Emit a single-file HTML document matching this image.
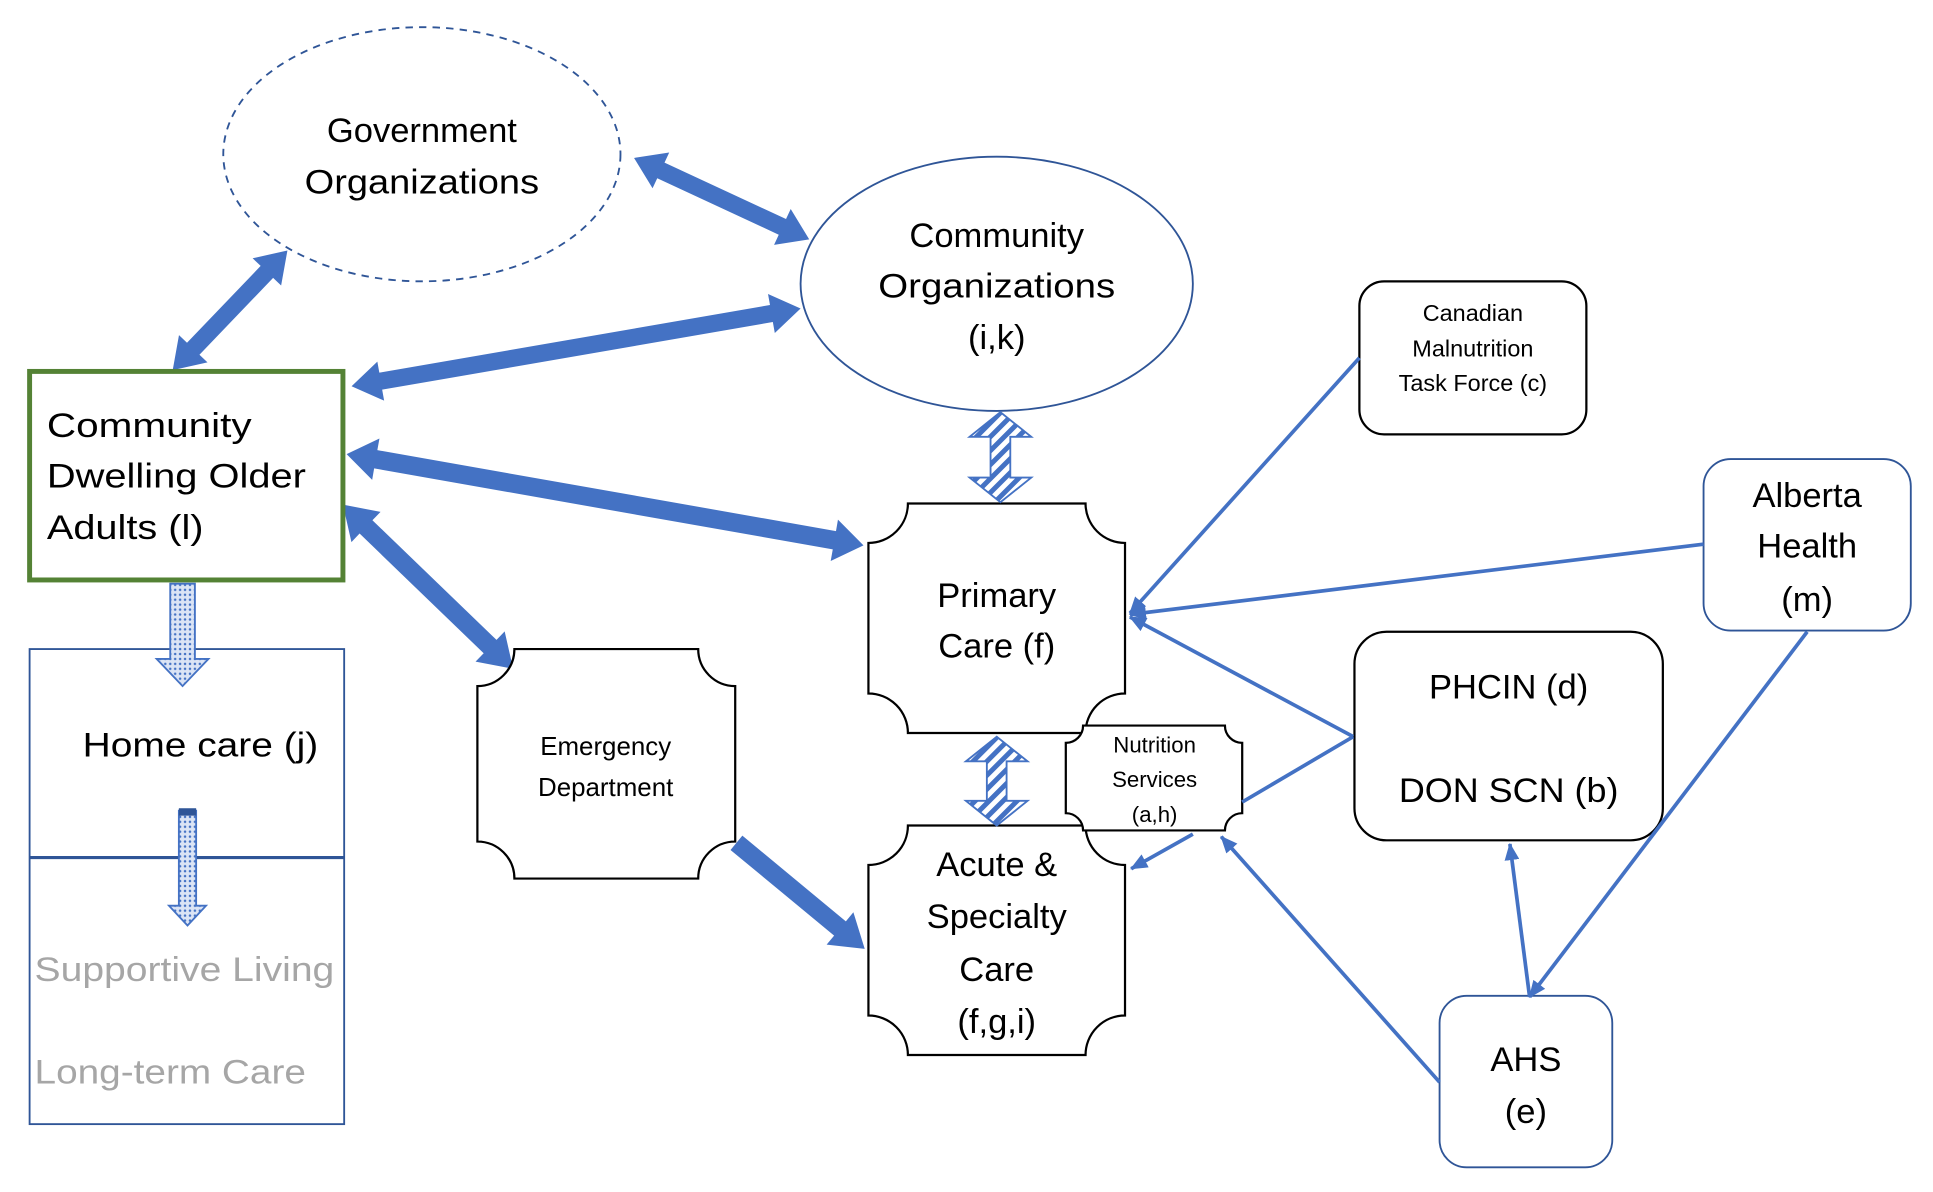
<!DOCTYPE html>
<html><head><meta charset="utf-8"><style>
html,body{margin:0;padding:0;background:#fff;}
svg{display:block;}
text{font-family:"Liberation Sans",sans-serif;}
</style></head><body>
<svg id="s" width="1933" height="1192" viewBox="0 0 1567 966" preserveAspectRatio="none" xmlns="http://www.w3.org/2000/svg">
<defs>
<pattern id="hatch" width="8" height="8" patternUnits="userSpaceOnUse" patternTransform="rotate(45)">
<rect width="8" height="8" fill="#fff"/><rect width="4" height="8" fill="#4472c4"/></pattern>
<pattern id="dots" width="4" height="4" patternUnits="userSpaceOnUse">
<rect width="4" height="4" fill="#dbe4f5"/><circle cx="2" cy="2" r="1" fill="#4472c4"/></pattern>
<marker id="ah" markerUnits="userSpaceOnUse" markerWidth="14" markerHeight="12" refX="13" refY="6" orient="auto-start-reverse"><path d="M0,0 L14,6 L0,12 z" fill="#4472c4"/></marker>
</defs>
<g id="arrows"></g>

<ellipse cx="342" cy="125" rx="161" ry="103" fill="none" stroke="#2f5597" stroke-width="1.5" stroke-dasharray="6,5"/>
<text x="342" y="115" font-size="28" text-anchor="middle">Government</text>
<text x="342" y="157" font-size="28" text-anchor="middle" textLength="190" lengthAdjust="spacingAndGlyphs">Organizations</text>

<ellipse cx="808" cy="230" rx="159" ry="103" fill="#fff" stroke="#2f5597" stroke-width="1.5"/>
<text x="808" y="200" font-size="28" text-anchor="middle">Community</text>
<text x="808" y="241" font-size="28" text-anchor="middle" textLength="192" lengthAdjust="spacingAndGlyphs">Organizations</text>
<text x="808" y="283" font-size="28" text-anchor="middle">(i,k)</text>

<rect x="24" y="301" width="254" height="169" fill="#fff" stroke="#548235" stroke-width="4"/>
<text x="38" y="354" font-size="28" textLength="166" lengthAdjust="spacingAndGlyphs">Community</text>
<text x="38" y="395" font-size="28" textLength="210" lengthAdjust="spacingAndGlyphs">Dwelling Older</text>
<text x="38" y="437" font-size="28" textLength="127" lengthAdjust="spacingAndGlyphs">Adults (l)</text>

<rect x="24" y="526" width="255" height="385" fill="#fff" stroke="#2f5597" stroke-width="1.5"/>
<line x1="24" y1="695" x2="279" y2="695" stroke="#2f5597" stroke-width="2.5"/>
<text x="67" y="613" font-size="28" textLength="191" lengthAdjust="spacingAndGlyphs">Home care (j)</text>
<text x="28" y="795" font-size="28" fill="#a6a6a6" textLength="243" lengthAdjust="spacingAndGlyphs">Supportive Living</text>
<text x="28" y="878" font-size="28" fill="#a6a6a6" textLength="220" lengthAdjust="spacingAndGlyphs">Long-term Care</text>

<g id="plaques" fill="#fff" stroke="#000" stroke-width="1.8"></g>

<text x="491" y="612" font-size="21" text-anchor="middle">Emergency</text>
<text x="491" y="645" font-size="21" text-anchor="middle">Department</text>
<text x="808" y="492" font-size="28" text-anchor="middle">Primary</text>
<text x="808" y="533" font-size="28" text-anchor="middle">Care (f)</text>
<text x="808" y="710" font-size="28" text-anchor="middle">Acute &amp;</text>
<text x="808" y="752" font-size="28" text-anchor="middle">Specialty</text>
<text x="808" y="795" font-size="28" text-anchor="middle">Care</text>
<text x="808" y="837" font-size="28" text-anchor="middle">(f,g,i)</text>

<g id="nut"></g>
<text x="936" y="610" font-size="18" text-anchor="middle">Nutrition</text>
<text x="936" y="638" font-size="18" text-anchor="middle">Services</text>
<text x="936" y="666" font-size="18" text-anchor="middle">(a,h)</text>

<rect x="1102" y="228" width="184" height="124" rx="20" fill="#fff" stroke="#000" stroke-width="1.8"/>
<text x="1194" y="260" font-size="19" text-anchor="middle">Canadian</text>
<text x="1194" y="289" font-size="19" text-anchor="middle">Malnutrition</text>
<text x="1194" y="317" font-size="19" text-anchor="middle">Task Force (c)</text>

<rect x="1381" y="372" width="168" height="139" rx="22" fill="#fff" stroke="#2f5597" stroke-width="1.5"/>
<text x="1465" y="411" font-size="28" text-anchor="middle">Alberta</text>
<text x="1465" y="452" font-size="28" text-anchor="middle">Health</text>
<text x="1465" y="495" font-size="28" text-anchor="middle">(m)</text>

<rect x="1098" y="512" width="250" height="169" rx="26" fill="#fff" stroke="#000" stroke-width="1.8"/>
<text x="1223" y="566" font-size="28" text-anchor="middle">PHCIN (d)</text>
<text x="1223" y="650" font-size="28" text-anchor="middle" textLength="178" lengthAdjust="spacingAndGlyphs">DON SCN (b)</text>

<rect x="1167" y="807" width="140" height="139" rx="22" fill="#fff" stroke="#2f5597" stroke-width="1.5"/>
<text x="1237" y="868" font-size="28" text-anchor="middle">AHS</text>
<text x="1237" y="910" font-size="28" text-anchor="middle">(e)</text>

<g stroke="#4472c4" stroke-width="3" fill="none">
<line x1="1102" y1="290" x2="916" y2="497" marker-end="url(#ah)"/>
<line x1="1381" y1="441" x2="916" y2="498" marker-end="url(#ah)"/>
<line x1="1097" y1="597" x2="916" y2="500" marker-end="url(#ah)"/>
<line x1="1097" y1="597" x2="1007" y2="650"/>
<line x1="967" y1="676" x2="917" y2="704" marker-end="url(#ah)"/>
<line x1="1167" y1="877" x2="990" y2="678" marker-end="url(#ah)"/>
<line x1="1240" y1="808" x2="1224" y2="684" marker-end="url(#ah)"/>
<line x1="1465" y1="512" x2="1240" y2="808" marker-end="url(#ah)"/>
</g>
<g id="top"></g>
</svg>
<script>
var NS="http://www.w3.org/2000/svg";
function arrow(g,x1,y1,x2,y2,dbl,sw,hw,hl,fill,stroke){
 var dx=x2-x1,dy=y2-y1,L=Math.hypot(dx,dy),ux=dx/L,uy=dy/L,nx=-uy,ny=ux;
 function P(t,o){return (x1+ux*t+nx*o).toFixed(1)+","+(y1+uy*t+ny*o).toFixed(1);}
 var pts=[];
 if(dbl){pts.push(P(0,0),P(hl,hw/2),P(hl,sw/2));}else{pts.push(P(0,sw/2));}
 pts.push(P(L-hl,sw/2),P(L-hl,hw/2),P(L,0),P(L-hl,-hw/2),P(L-hl,-sw/2));
 if(dbl){pts.push(P(hl,-sw/2),P(hl,-hw/2));}else{pts.push(P(0,-sw/2));}
 var p=document.createElementNS(NS,"polygon");p.setAttribute("points",pts.join(" "));
 p.setAttribute("fill",fill);if(stroke){p.setAttribute("stroke",stroke);p.setAttribute("stroke-width","1.5");}
 document.getElementById(g).appendChild(p);
}
var B="#4472c4";
arrow("arrows",140,300,233,203,1,14,32,24,B);
arrow("arrows",514,128,656,194,1,14,32,24,B);
arrow("arrows",649,250,285,313,1,14,32,24,B);
arrow("arrows",281,368,700,442,1,15,34,24,B);
arrow("arrows",278,409,416,542,1,15,34,26,B);
arrow("arrows",597,683,701,769,0,15,34,26,B);
arrow("top",811,334,811,407,1,16,50,20,"url(#hatch)","#4472c4");
arrow("top",808,597,808,669,1,16,50,20,"url(#hatch)","#4472c4");
arrow("top",148,473,148,556,0,20,42,22,"url(#dots)","#4472c4");
arrow("top",152,657,152,750,0,14,30,16,"url(#dots)","#4472c4");
var r=document.createElementNS(NS,"rect");r.setAttribute("x",145);r.setAttribute("y",655);r.setAttribute("width",14);r.setAttribute("height",6);r.setAttribute("fill","#2f5597");document.getElementById("top").appendChild(r);
function plaque(g,x,y,x2,y2,r){
 var d="M"+(x+r)+","+y+" H"+(x2-r)+" A"+r+","+r+" 0 0 0 "+x2+","+(y+r)+" V"+(y2-r)+" A"+r+","+r+" 0 0 0 "+(x2-r)+","+y2+" H"+(x+r)+" A"+r+","+r+" 0 0 0 "+x+","+(y2-r)+" V"+(y+r)+" A"+r+","+r+" 0 0 0 "+(x+r)+","+y+" Z";
 var p=document.createElementNS(NS,"path");p.setAttribute("d",d);p.setAttribute("fill","#fff");p.setAttribute("stroke","#000");p.setAttribute("stroke-width","1.8");
 document.getElementById(g).appendChild(p);
}
plaque("plaques",387,526,596,712,30);
plaque("plaques",704,408,912,594,32);
plaque("plaques",704,669,912,855,32);
plaque("nut",864,588,1007,673,14);
</script>
</body></html>
